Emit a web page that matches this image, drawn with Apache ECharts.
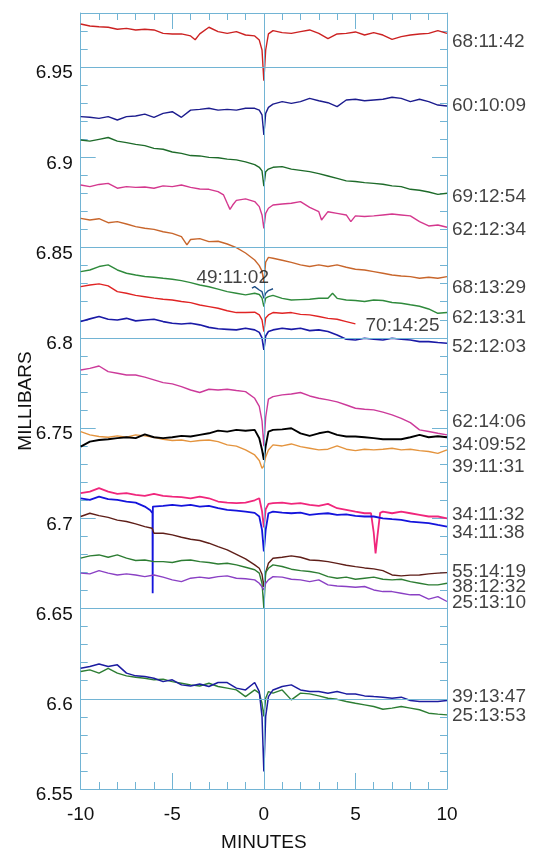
<!DOCTYPE html>
<html>
<head>
<meta charset="utf-8">
<script src="https://cdn.jsdelivr.net/npm/echarts@6/dist/echarts.min.js"></script>
<style>
html,body{margin:0;padding:0;background:#fff;}
#chart{width:535px;height:852px;}
</style>
</head>
<body>
<div id="chart"></div>
<script>
// shared time grid (minutes)
const minutes = [-10,-9.5,-9,-8.5,-8,-7.5,-7,-6.5,-6,-5.5,-5,-4.5,-4,-3.5,-3,-2.5,-2,-1.5,-1,-0.5,
  -0.25,-0.1,0,0.1,0.25,
  0.5,1,1.5,2,2.5,3,3.5,4,4.5,5,5.5,6,6.5,7,7.5,8,8.5,9,9.5,10];

const s68_11_42 = [6.9739,6.9728,6.9724,6.9721,6.9710,6.9715,6.9706,6.9710,6.9706,6.9687,6.9684,6.9684,6.9673,6.9684,6.9721,6.9697,6.9687,6.9697,6.9678,6.9673,
  6.9650,6.9595,6.9425,6.9595,6.9684,
  6.9702,6.9691,6.9687,6.9697,6.9706,6.9687,6.9658,6.9684,6.9687,6.9695,6.9678,6.9691,6.9678,6.9654,6.9669,6.9678,6.9684,6.9687,6.9702,6.9687];
const x68_11_42 = [[-3.75,6.9652]];

const s60_10_09 = [6.9226,6.9222,6.9216,6.9226,6.9207,6.9226,6.9229,6.9240,6.9222,6.9244,6.9253,6.9222,6.9262,6.9266,6.9272,6.9262,6.9266,6.9262,6.9272,6.9272,
  6.9262,6.9235,6.9124,6.9244,6.9277,
  6.9295,6.9309,6.9299,6.9309,6.9327,6.9314,6.9303,6.9281,6.9318,6.9322,6.9314,6.9318,6.9322,6.9333,6.9327,6.9309,6.9322,6.9309,6.9290,6.9285];

const s69_12_54 = [6.9096,6.9090,6.9100,6.9110,6.9090,6.9082,6.9072,6.9065,6.9050,6.9045,6.9030,6.9022,6.9010,6.9008,6.9000,6.8998,6.8990,6.8986,6.8975,6.8960,
  6.8945,6.8925,6.8840,6.8920,6.8935,
  6.8945,6.8949,6.8935,6.8928,6.8921,6.8910,6.8897,6.8884,6.8870,6.8866,6.8860,6.8856,6.8851,6.8842,6.8838,6.8823,6.8818,6.8808,6.8795,6.8801];

const s62_12_34 = [6.8847,6.8838,6.8850,6.8856,6.8829,6.8838,6.8834,6.8836,6.8829,6.8842,6.8838,6.8847,6.8834,6.8825,6.8823,6.8810,6.8746,6.8762,6.8770,6.8755,
  6.8727,6.8681,6.8607,6.8690,6.8718,
  6.8736,6.8742,6.8746,6.8755,6.8723,6.8699,6.8699,6.8690,6.8681,6.8676,6.8672,6.8676,6.8681,6.8686,6.8681,6.8676,6.8644,6.8620,6.8625,6.8613];
const x62_12_34 = [[-2.2,6.8792],[-1.85,6.8712],[-1.7,6.8736],[3.15,6.8653],[4.75,6.8644]];

const s68_13_29 = [6.8662,6.8653,6.8660,6.8638,6.8644,6.8631,6.8616,6.8607,6.8601,6.8588,6.8579,6.8561,6.8545,6.8550,6.8533,6.8535,6.8520,6.8500,6.8470,6.8431,
  6.8400,6.8370,6.8310,6.8420,6.8446,
  6.8441,6.8430,6.8418,6.8404,6.8395,6.8404,6.8395,6.8404,6.8391,6.8380,6.8376,6.8367,6.8358,6.8348,6.8343,6.8339,6.8330,6.8336,6.8330,6.8339];
const x68_13_29 = [[-4.2,6.8515]];

const s62_13_31 = [6.8367,6.8376,6.8395,6.8404,6.8376,6.8358,6.8348,6.8340,6.8336,6.8330,6.8325,6.8317,6.8306,6.8293,6.8283,6.8270,6.8256,6.8247,6.8238,6.8247,
  6.8240,6.8220,6.8173,6.8220,6.8228,
  6.8235,6.8219,6.8210,6.8212,6.8214,6.8219,6.8219,6.8219,6.8210,6.8207,6.8201,6.8210,6.8207,6.8196,6.8192,6.8183,6.8175,6.8160,6.8136,6.8140];
const x62_13_31 = [[3.75,6.8247]];

const s70_14_25 = [6.8284,6.8293,6.8299,6.8288,6.8256,6.8247,6.8235,6.8228,6.8220,6.8214,6.8210,6.8201,6.8195,6.8182,6.8173,6.8164,6.8150,6.8140,6.8140,6.8142,
  6.8127,6.8100,6.8035,6.8110,6.8127,
  6.8140,6.8136,6.8140,6.8130,6.8127,6.8118,6.8108,6.8103,6.8090,6.8077,null,null,null,null,null,null,null,null,null,null];

const s52_12_03 = [6.8090,6.8105,6.8118,6.8103,6.8099,6.8108,6.8094,6.8099,6.8103,6.8090,6.8081,6.8077,6.8081,6.8072,6.8058,6.8050,6.8047,6.8044,6.8053,6.8044,
  6.8030,6.8000,6.7933,6.8010,6.8035,
  6.8044,6.8053,6.8047,6.8053,6.8040,6.8044,6.8035,6.8016,6.7992,6.7988,6.7998,6.7992,6.7988,6.7998,6.7992,6.7988,6.7979,6.7979,6.7974,6.7970];

const s49_11_02 = [null,null,null,null,null,null,null,null,null,null,null,null,null,null,null,null,null,null,null,6.8284,
  6.8265,6.8256,6.8219,6.8247,6.8262,
  6.8272,null,null,null,null,null,null,null,null,null,null,null,null,null,null,null,null,null,null,null];
const x49_11_02 = [[-0.65,6.8275]];

const s62_14_06 = [6.7822,6.7831,6.7844,6.7813,6.7804,6.7794,6.7794,6.7782,6.7767,6.7752,6.7745,6.7730,6.7711,6.7697,6.7715,6.7711,6.7715,6.7708,6.7702,6.7665,
  6.7620,6.7540,6.7400,6.7560,6.7660,
  6.7674,6.7684,6.7689,6.7697,6.7678,6.7665,6.7656,6.7645,6.7628,6.7610,6.7604,6.7601,6.7588,6.7573,6.7554,6.7530,6.7490,6.7481,6.7471,6.7462];

const s34_09_52 = [6.7397,6.7425,6.7434,6.7438,6.7444,6.7449,6.7444,6.7465,6.7449,6.7444,6.7449,6.7457,6.7453,6.7462,6.7471,6.7486,6.7480,6.7490,6.7485,6.7490,
  6.7444,6.7380,6.7324,6.7400,6.7480,
  6.7490,6.7493,6.7499,6.7471,6.7457,6.7471,6.7480,6.7462,6.7453,6.7453,6.7449,6.7444,6.7438,6.7438,6.7438,6.7449,6.7462,6.7449,6.7455,6.7449];

const s39_11_31 = [6.7480,6.7462,6.7453,6.7449,6.7457,6.7449,6.7462,6.7457,6.7449,6.7438,6.7431,6.7434,6.7425,6.7431,6.7434,6.7425,6.7407,6.7400,6.7379,6.7351,
  6.7320,6.7277,6.7290,6.7340,6.7379,
  6.7407,6.7401,6.7412,6.7397,6.7388,6.7379,6.7383,6.7401,6.7383,6.7375,6.7383,6.7379,6.7383,6.7388,6.7379,6.7383,6.7375,6.7370,6.7360,6.7379];

const s34_11_32 = [6.7139,6.7148,6.7167,6.7148,6.7135,6.7139,6.7130,6.7124,6.7135,6.7124,6.7120,6.7117,6.7111,6.7120,6.7111,6.7093,6.7087,6.7084,6.7087,6.7100,
  6.7111,6.7040,6.6950,6.7050,6.7080,
  6.7084,6.7087,6.7080,6.7084,6.7074,6.7069,6.7080,6.7056,6.7047,6.7037,6.7028,6.6920,6.7037,6.7028,6.7037,6.7028,6.7019,6.7010,6.7010,6.7000];
const x34_11_32 = [[5.85,6.7028],[6.1,6.6806],[6.2,6.6900],[6.35,6.7030]];

const s34_11_38 = [6.7111,6.7102,6.7120,6.7106,6.7102,6.7093,6.7087,6.7065,6.7074,6.7069,6.7074,6.7069,6.7074,6.7065,6.7069,6.7056,6.7047,6.7043,6.7037,6.7030,
  6.7010,6.6936,6.6816,6.6936,6.7028,
  6.7037,6.7032,6.7028,6.7032,6.7019,6.7024,6.7028,6.7019,6.7022,6.7013,6.7010,6.7010,6.7000,6.6995,6.6991,6.6982,6.6978,6.6973,6.6963,6.6954];
const x34_11_38 = [[-6.2,6.7045],[-6.08,6.7028],[-6.07,6.6585],[-6.06,6.7065]];

const s55_14_19 = [6.7010,6.7028,6.7015,6.7005,6.6990,6.6982,6.6969,6.6954,6.6917,6.6917,6.6908,6.6895,6.6884,6.6877,6.6862,6.6843,6.6825,6.6800,6.6775,6.6742,
  6.6723,6.6690,6.6620,6.6700,6.6751,
  6.6779,6.6784,6.6792,6.6784,6.6769,6.6766,6.6760,6.6750,6.6740,6.6732,6.6725,6.6720,6.6710,6.6686,6.6681,6.6685,6.6686,6.6692,6.6696,6.6699];
const x55_14_19 = [[-6.1,6.6945]];

const s38_12_32 = [6.6779,6.6792,6.6797,6.6784,6.6797,6.6779,6.6766,6.6769,6.6760,6.6760,6.6755,6.6766,6.6769,6.6760,6.6755,6.6747,6.6751,6.6742,6.6729,6.6715,
  6.6696,6.6640,6.6502,6.6700,6.6723,
  6.6742,6.6733,6.6718,6.6710,6.6705,6.6696,6.6677,6.6668,6.6674,6.6662,6.6668,6.6674,6.6662,6.6659,6.6662,6.6649,6.6640,6.6631,6.6631,6.6640];

const s25_13_10 = [6.6696,6.6692,6.6710,6.6696,6.6686,6.6692,6.6686,6.6677,6.6686,6.6674,6.6659,6.6649,6.6668,6.6674,6.6668,6.6677,6.6681,6.6668,6.6665,6.6659,
  6.6640,6.6620,6.6603,6.6640,6.6659,
  6.6677,6.6674,6.6662,6.6659,6.6649,6.6659,6.6631,6.6625,6.6622,6.6618,6.6622,6.6603,6.6594,6.6594,6.6585,6.6576,6.6576,6.6552,6.6566,6.6539];

const s39_13_47 = [6.6169,6.6179,6.6193,6.6179,6.6188,6.6142,6.6127,6.6123,6.6114,6.6095,6.6105,6.6077,6.6071,6.6082,6.6068,6.6090,6.6090,6.6059,6.6049,6.6090,
  6.6040,6.5902,6.5597,6.5902,6.6012,
  6.6049,6.6068,6.6077,6.6049,6.6040,6.6040,6.6031,6.6040,6.6027,6.6027,6.6016,6.6012,6.6009,6.6003,6.6009,6.5990,6.5985,6.5985,6.5985,6.5990];

const s25_13_53 = [6.6151,6.6160,6.6142,6.6169,6.6142,6.6127,6.6119,6.6114,6.6105,6.6108,6.6095,6.6086,6.6077,6.6071,6.6086,6.6068,6.6059,6.6049,6.6012,6.6049,
  6.6031,6.5975,6.5902,6.6003,6.6040,
  6.6031,6.6049,6.5994,6.6031,6.6027,6.6016,6.6003,6.5997,6.5985,6.5975,6.5966,6.5957,6.5942,6.5948,6.5957,6.5948,6.5939,6.5920,6.5915,6.5911];

// trace labels at the right edge
const rightLabelNames = ['68:11:42','60:10:09','69:12:54','62:12:34','68:13:29','62:13:31','52:12:03','62:14:06','34:09:52','39:11:31','34:11:32','34:11:38','55:14:19','38:12:32','25:13:10','39:13:47','25:13:53'];
const rightLabelLevels = [6.9641,6.9285,6.8779,6.8598,6.8275,6.8109,6.7951,6.7536,6.7407,6.7286,6.7019,6.6919,6.6705,6.6618,6.6533,6.6012,6.5905];
// labels inside the plot
const innerLabelNames = ['49:11:02','70:14:25'];
const innerLabelPositions = [[-3.68,6.8332],[5.55,6.8066]];

// reference lines
const referenceLevels = [6.95,6.85,6.8,6.65,6.6];
const referenceMinutes = [0];

const AX = '#72b4d4';
const TXT = '#111111';
const FONT = '"Liberation Sans", Arial, sans-serif';

function build(vals, extras) {
  const pts = [];
  minutes.forEach((m, i) => { if (vals[i] !== null && vals[i] !== undefined) pts.push([m, vals[i]]); });
  (extras || []).forEach(p => pts.push(p));
  pts.sort((a, b) => a[0] - b[0]);
  return pts;
}

function trace(name, vals, extras, color, width) {
  return {
    name: name, type: 'line', data: build(vals, extras),
    showSymbol: false, symbol: 'none', smooth: false,
    lineStyle: { color: color, width: width || 1.4 },
    emphasis: { disabled: true }, silent: true, z: 3
  };
}

const series = [
  {
    type: 'line', data: [[0, 6.7]], symbol: 'none', showSymbol: false, silent: true,
    lineStyle: { opacity: 0 }, z: 1,
    markLine: {
      silent: true, symbol: 'none', animation: false,
      label: { show: false },
      lineStyle: { color: AX, width: 1, type: 'solid' },
      data: referenceLevels.map(v => ({ yAxis: v })).concat(referenceMinutes.map(v => ({ xAxis: v })))
    }
  },
  trace('68:11:42', s68_11_42, x68_11_42, '#cc2222'),
  trace('60:10:09', s60_10_09, null, '#1c1c8e'),
  trace('69:12:54', s69_12_54, null, '#1e6b2a'),
  trace('62:12:34', s62_12_34, x62_12_34, '#d4388e'),
  trace('68:13:29', s68_13_29, x68_13_29, '#c8662c'),
  trace('62:13:31', s62_13_31, x62_13_31, '#2f8a3c'),
  trace('70:14:25', s70_14_25, null, '#e02424'),
  trace('52:12:03', s52_12_03, null, '#1a1aa6', 1.6),
  trace('49:11:02', s49_11_02, x49_11_02, '#1f4f86'),
  trace('62:14:06', s62_14_06, null, '#cc3a9a'),
  trace('39:11:31', s39_11_31, null, '#e4943e'),
  trace('34:09:52', s34_09_52, null, '#000000', 1.9),
  trace('34:11:32', s34_11_32, x34_11_32, '#f0267c', 1.8),
  trace('34:11:38', s34_11_38, x34_11_38, '#1414dc', 1.8),
  trace('55:14:19', s55_14_19, x55_14_19, '#5e1e18'),
  trace('38:12:32', s38_12_32, null, '#2d7d33'),
  trace('25:13:10', s25_13_10, null, '#8a40c4'),
  trace('25:13:53', s25_13_53, null, '#2d7d33'),
  trace('39:13:47', s39_13_47, null, '#1c1ca0', 1.5),
  {
    type: 'scatter', symbolSize: 0, silent: true, z: 5,
    data: rightLabelNames.map((n, i) => ({ name: n, value: [10, rightLabelLevels[i]] })),
    label: { show: true, position: 'right', distance: 5, formatter: p => p.name,
      color: TXT, fontSize: 19, fontFamily: FONT }
  },
  {
    type: 'scatter', symbolSize: 0, silent: true, z: 5,
    data: innerLabelNames.map((n, i) => ({ name: n, value: innerLabelPositions[i] })),
    label: { show: true, position: 'right', distance: 0, formatter: p => p.name,
      color: TXT, fontSize: 19, fontFamily: FONT }
  }
];

function xAx(pos, labels) {
  return {
    type: 'value', position: pos, min: -10, max: 10, interval: 5,
    name: labels ? 'MINUTES' : '', nameLocation: 'middle', nameGap: 44, nameMoveOverlap: false,
    nameTextStyle: { color: TXT, fontSize: 19, fontFamily: FONT },
    axisLine: { show: true, onZero: false, lineStyle: { color: AX, width: 1 } },
    axisTick: { show: true, inside: true, length: 16, lineStyle: { color: AX } },
    minorTick: { show: true, splitNumber: 5, length: 7, lineStyle: { color: AX } },
    axisLabel: { show: labels, color: TXT, fontSize: 19, fontFamily: FONT, margin: 16 },
    splitLine: { show: false }, minorSplitLine: { show: false }
  };
}
function yAx(pos, major, labels) {
  return {
    type: 'value', position: pos, min: 6.55, max: 6.98, interval: major ? 0.05 : 0.01,
    name: labels ? 'MILLIBARS' : '', nameLocation: 'middle', nameGap: 45, nameMoveOverlap: false,
    nameTextStyle: { color: TXT, fontSize: 19, fontFamily: FONT },
    axisLine: { show: major, onZero: false, lineStyle: { color: AX, width: 1 } },
    axisTick: { show: true, inside: true, length: major ? 15 : 7, lineStyle: { color: AX } },
    axisLabel: { show: labels, color: TXT, fontSize: 19, fontFamily: FONT, margin: 8,
      showMaxLabel: false, verticalAlign: 'top', lineHeight: 12 },
    splitLine: { show: false }
  };
}

const chart = echarts.init(document.getElementById('chart'), null, { renderer: 'canvas' });
chart.setOption({
  animation: false,
  backgroundColor: '#ffffff',
  grid: { left: 80.7, right: 88, top: 13, bottom: 63, containLabel: false, outerBoundsMode: 'none' },
  xAxis: [xAx('bottom', true), xAx('top', false)],
  yAxis: [yAx('left', true, true), yAx('left', false, false), yAx('right', true, false), yAx('right', false, false)],
  series: series
});
</script>
</body>
</html>
